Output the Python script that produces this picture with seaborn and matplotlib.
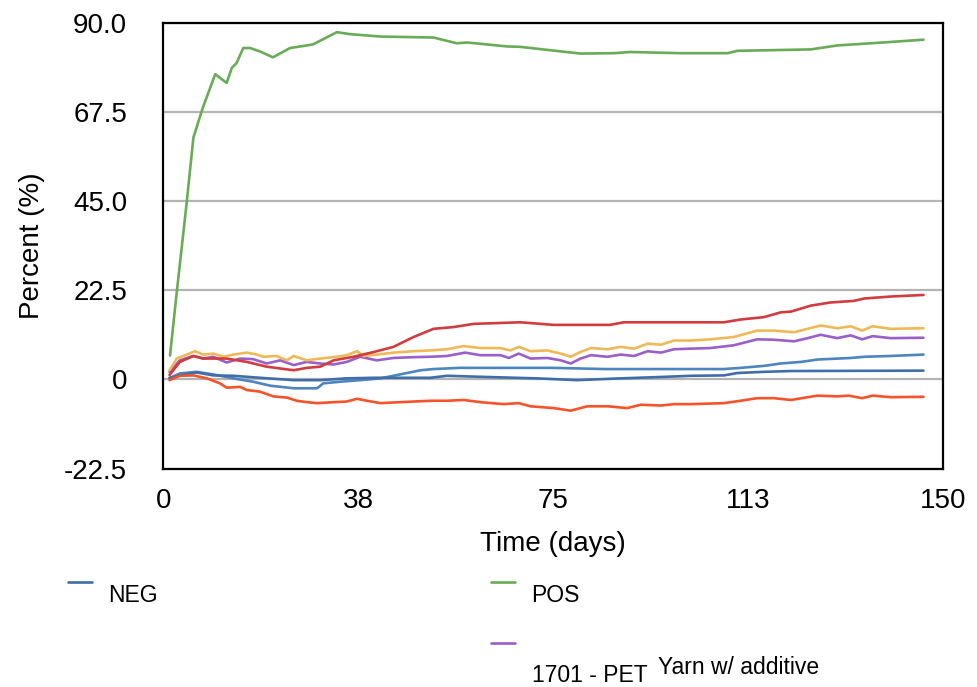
import matplotlib
matplotlib.use("Agg")
import matplotlib.pyplot as plt
from matplotlib.lines import Line2D
import seaborn as sns

# series (days, percent)
pos_days = [1.3, 2.6, 4.5, 5.8, 7.6, 10, 12.2, 13.2, 14.1, 15.4, 16.7, 18.6, 21.1, 24.4, 28.8,
            33.4, 36, 41.8, 52, 56.5, 58.5, 66.2, 68.7, 80.3, 86.7, 89.9, 99.6, 108.6, 110.5,
            124.6, 129.7, 136.2, 146.3]
pos_vals = [6, 22, 44.5, 61, 68.5, 77, 74.8, 78.6, 79.8, 83.6, 83.6, 82.75, 81.25, 83.6, 84.5,
            87.6, 87.1, 86.5, 86.25, 84.8, 85, 84, 83.9, 82.2, 82.3, 82.6, 82.3, 82.3, 82.9,
            83.25, 84.25, 84.8, 85.7]

red_days = [1.2, 3.2, 5.8, 7.7, 12.2, 16.1, 19.9, 25.1, 27.6, 30.2, 32.8, 36.6, 40.5, 44.3,
            48.2, 52, 55.9, 59.7, 68.7, 75.1, 86, 88.6, 107.9, 111.1, 115.6, 118.8, 120.8,
            124.6, 128.4, 132.9, 134.9, 140, 146.3]
red_vals = [1.1, 4.4, 5.9, 5.25, 5.25, 4.4, 3.2, 2.3, 2.9, 3.2, 4.8, 5.7, 6.9, 8.2,
            10.7, 12.75, 13.2, 14, 14.4, 13.75, 13.75, 14.4, 14.4, 15.1, 15.7, 16.9, 17.1,
            18.6, 19.4, 19.8, 20.4, 20.9, 21.3]

yellow_days = [1.2, 2.6, 4.5, 6.1, 7.7, 9.6, 11.6, 13.5, 16.1, 18, 19.3, 21.8, 23.8, 25.1,
               27.6, 30.2, 33.4, 35.3, 37.3, 38.5, 41.1, 44.3, 48.2, 51.4, 54.6, 57.8, 61,
               64.9, 66.8, 68.4, 70.7, 73.9, 76.5, 78.4, 80.3, 82.3, 85.5, 88, 90.6, 93.2,
               95.8, 98.3, 101.5, 105.3, 109.8, 114.3, 117.5, 121.4, 124, 126.5, 129.7,
               132.3, 134.5, 136.5, 140, 146.3]
yellow_vals = [2.3, 5.25, 6.25, 7.1, 6.25, 6.5, 5.7, 6.25, 6.75, 6.25, 5.7, 5.9, 4.8, 5.9,
               4.8, 5.25, 5.7, 6.1, 7.1, 5.9, 6.25, 6.75, 7.1, 7.3, 7.6, 8.4, 7.9,
               7.9, 7.3, 8.2, 7.1, 7.3, 6.5, 5.7, 6.9, 7.9, 7.6, 8.2, 7.75, 9,
               8.75, 9.8, 9.8, 10.1, 10.7, 12.3, 12.3, 11.9, 12.75, 13.6, 12.9,
               13.4, 12.3, 13.4, 12.75, 12.9]

purple_days = [1.2, 3.2, 5.8, 7.7, 9.6, 12.2, 14.8, 17.3, 19.9, 22.5, 25.1, 27.6, 30.2, 32.8,
               35.3, 37.9, 41.1, 44.3, 48.2, 51.4, 54.6, 58.1, 61, 64.9, 66.5, 68.4, 70.7,
               73.9, 76.5, 78.4, 80.3, 82.3, 85.5, 88, 90.6, 93.2, 95.8, 98.3, 101.5, 105.3,
               109.8, 114.3, 117.5, 121.4, 124, 126.5, 129.7, 132.3, 134.5, 136.5, 140, 146.3]
purple_vals = [1.9, 4.8, 5.9, 5.25, 5.7, 4.25, 5.25, 5.1, 4, 4.8, 3.6, 4.4, 4, 3.75,
               4.4, 5.7, 4.8, 5.4, 5.6, 5.7, 5.9, 6.75, 6.1, 6.1, 5.4, 6.5, 5.25,
               5.4, 4.8, 4, 5.25, 6.1, 5.7, 6.25, 5.9, 7.1, 6.75, 7.6, 7.75, 7.9,
               8.6, 10.1, 10, 9.6, 10.4, 11.25, 10.4, 11.1, 10.1, 10.9, 10.4, 10.5]

light_blue_days = [1.2, 3.2, 6.4, 9.6, 13.5, 17.3, 20.6, 25.1, 29.6, 30.8, 34, 37.9, 41.8,
                   45.6, 49.5, 52, 57, 65, 75, 85, 101.5, 107.9, 111.1, 115.6, 118.8,
                   122.7, 125.9, 132.3, 134.9, 140, 146.3]
light_blue_vals = [0.25, 1.5, 1.9, 1.25, 0.25, -0.6, -1.6, -2.25, -2.25, -1, -0.6, -0.2, 0.25,
                   1.25, 2.3, 2.6, 2.9, 2.9, 2.9, 2.6, 2.6, 2.6, 2.9, 3.4, 4,
                   4.4, 5, 5.4, 5.7, 5.9, 6.25]

neg_days = [1.2, 3.2, 6.4, 9.6, 13.5, 18.6, 25.1, 30.2, 35.3, 40.5, 45.6, 51.4, 54.6, 62.3,
            71.9, 79.6, 88, 95.8, 101.5, 107.9, 110.5, 115.6, 120.8, 146.3]
neg_vals = [0.4, 1, 1.75, 1, 0.9, 0.4, -0.2, -0.2, 0.25, 0.4, 0.4, 0.4, 0.9, 0.6,
            0.25, -0.2, 0.25, 0.6, 0.9, 1, 1.6, 1.9, 2.1, 2.2]

orange_days = [1.2, 3.2, 5.8, 8.4, 10.9, 12.2, 14.8, 16.1, 18.6, 21.2, 23.8, 25.7, 27.6, 29.6,
               32.8, 35.3, 37.3, 39.2, 41.8, 45.6, 51.4, 54.6, 57.8, 61, 65.5, 68.4, 70.7,
               75.1, 78.4, 81.6, 85.5, 89.3, 91.9, 95.8, 98.3, 101.5, 107.9, 111.1, 114.3,
               117.5, 120.8, 125.9, 129.7, 131.9, 134.5, 136.5, 140, 146.3]
orange_vals = [-0.2, 0.9, 1, 0.25, -1, -2.1, -1.9, -2.7, -3.1, -4.3, -4.6, -5.4, -5.75, -6,
               -5.75, -5.6, -4.9, -5.4, -6, -5.75, -5.4, -5.4, -5.2, -5.75, -6.25, -6, -6.8,
               -7.25, -7.9, -6.8, -6.8, -7.25, -6.4, -6.6, -6.25, -6.25, -6, -5.4, -4.75,
               -4.75, -5.2, -4.1, -4.3, -4.1, -4.75, -4.1, -4.5, -4.4]

x_ticks = [0, 37.5, 75, 112.5, 150]
x_labels = ["0", "38", "75", "113", "150"]
y_ticks = [-22.5, 0, 22.5, 45, 67.5, 90]
y_labels = ["-22.5", "0", "22.5", "45.0", "67.5", "90.0"]

c_neg = "#3f6ea8"
c_pos = "#6aab58"
c_purple = "#9a5fc9"
c_red = "#d13c3f"
c_yellow = "#f0b957"
c_lblue = "#4d85be"
c_orange = "#f5532a"

sns.set_style("white")
plt.rcParams["font.family"] = ["Liberation Sans", "DejaVu Sans"]
plt.rcParams.update({"text.color": "black", "axes.labelcolor": "black",
                     "xtick.color": "black", "ytick.color": "black"})

fig = plt.figure(figsize=(9.77, 6.87), dpi=100)
ax = fig.add_axes([0.1671, 0.318, 0.7978, 0.649])

series = [
    (light_blue_days, light_blue_vals, c_lblue),
    (neg_days, neg_vals, c_neg),
    (orange_days, orange_vals, c_orange),
    (purple_days, purple_vals, c_purple),
    (yellow_days, yellow_vals, c_yellow),
    (red_days, red_vals, c_red),
    (pos_days, pos_vals, c_pos),
]
for xs, ys, col in series:
    sns.lineplot(x=xs, y=ys, color=col, linewidth=1.9, ax=ax, zorder=3)

ax.set_xlim(0, 150)
ax.set_ylim(-22.5, 90)
ax.set_xticks(x_ticks)
ax.set_xticklabels(x_labels)
ax.set_yticks(y_ticks)
ax.set_yticklabels(y_labels)
ax.yaxis.grid(True, color="#b4b4b4", linewidth=1.6)
ax.xaxis.grid(False)
ax.tick_params(axis="both", length=0, labelsize=20)
ax.tick_params(axis="y", pad=26)
ax.tick_params(axis="x", pad=14)
for s in ax.spines.values():
    s.set_color("black")
    s.set_linewidth(1.6)

ax.set_xlabel("Time (days)", fontsize=20, labelpad=12)
ax.set_ylabel("Percent (%)", fontsize=20, labelpad=14)

# legend, laid out as in the original export
def legend_item(x0, y0, col):
    fig.add_artist(Line2D([x0 / 977, (x0 + 24) / 977], [1 - y0 / 687, 1 - y0 / 687],
                          color=col, linewidth=1.9))

legend_item(68, 582, c_neg)
legend_item(491, 582, c_pos)
legend_item(491, 643, c_purple)
fig.text(108 / 977, 1 - 602 / 687, "NEG", fontsize=16.5, va="baseline", ha="left")
fig.text(531 / 977, 1 - 602 / 687, "POS", fontsize=16.5, va="baseline", ha="left")
fig.text(532 / 977, 1 - 682.5 / 687, "1701 - PET", fontsize=16.5, va="baseline", ha="left")
fig.text(658 / 977, 1 - 673.5 / 687, "Yarn w/ additive", fontsize=16.5, va="baseline", ha="left")

fig.savefig("out.png", dpi=100)
